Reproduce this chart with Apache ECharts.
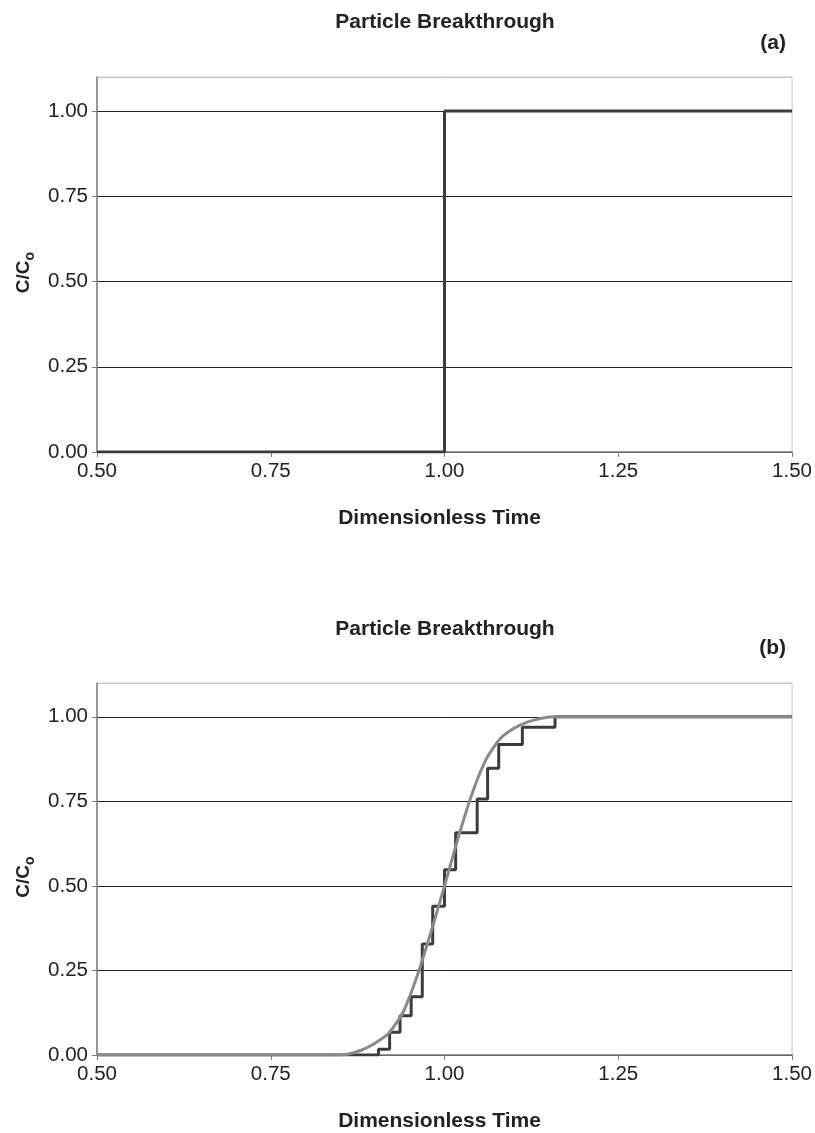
<!DOCTYPE html>
<html>
<head>
<meta charset="utf-8">
<script src="https://cdn.jsdelivr.net/npm/echarts@6/dist/echarts.min.js"></script>
<style>
    html, body { margin: 0; padding: 0; background: #fff; }
    #chart { width: 815px; height: 1133px; }
</style>
</head>
<body>
<div id="chart"></div>
<script>
    // (a) ideal breakthrough: [time, C/Co], value held until next time
    var stepA = [[0.50, 0], [1.00, 1], [1.50, 1]];

    // (b) particle steps
    var stepTimes = [0.50, 0.905, 0.921, 0.936, 0.952, 0.968, 0.983, 1.000, 1.016, 1.047, 1.062, 1.078, 1.112, 1.159, 1.50];
    var stepConc  = [0.000, 0.017, 0.067, 0.116, 0.172, 0.328, 0.440, 0.548, 0.657, 0.757, 0.848, 0.918, 0.969, 1.000, 1.000];

    // (b) smooth curve
    var curveTimes = [0.50, 0.84, 0.86, 0.88, 0.90, 0.92, 0.94, 0.96, 0.98, 1.00, 1.02, 1.04, 1.06, 1.08, 1.10, 1.12, 1.14, 1.16, 1.50];
    var curveConc  = [0.000, 0.000, 0.002, 0.014, 0.035, 0.065, 0.125, 0.230, 0.360, 0.500, 0.645, 0.775, 0.875, 0.935, 0.966, 0.985, 0.996, 1.000, 1.000];

    function pairs(xs, ys) {
        return xs.map(function (x, i) { return [x, ys[i]]; });
    }

    var font = 'Liberation Sans, Arial, sans-serif';
    var ink = '#222';

    function xAxisOf(idx) {
        return {
            gridIndex: idx, type: 'value', min: 0.5, max: 1.5, interval: 0.25,
            name: 'Dimensionless Time', nameLocation: 'middle', nameGap: 56,
            nameTextStyle: { fontFamily: font, fontSize: 21, fontWeight: 'bold', color: ink, padding: [0, 10, 0, 0] },
            axisLine: { lineStyle: { color: '#808080', width: 1.5 } },
            axisTick: { length: 5, lineStyle: { color: '#808080' } },
            axisLabel: { fontFamily: font, fontSize: 20.5, color: ink, margin: 9,
                formatter: function (v) { return v.toFixed(2); } },
            splitLine: { show: false }
        };
    }

    function yAxisOf(idx) {
        return {
            gridIndex: idx, type: 'value', min: 0, max: 1.1, interval: 0.25,
            name: '{a|C/C}{b|o}', nameLocation: 'middle', nameGap: 60,
            nameTextStyle: {
                padding: [0, 16, 0, 0],
                rich: {
                    a: { fontFamily: font, fontSize: 19, fontWeight: 'bold', color: ink, lineHeight: 26 },
                    b: { fontFamily: font, fontSize: 14, fontWeight: 'bold', color: ink, verticalAlign: 'bottom', lineHeight: 14 }
                }
            },
            axisLine: { lineStyle: { color: '#808080', width: 1.5 } },
            axisTick: { length: 5, lineStyle: { color: '#808080' } },
            axisLabel: { fontFamily: font, fontSize: 20.5, color: ink, margin: 9, showMaxLabel: false,
                formatter: function (v) { return v.toFixed(2); } },
            splitLine: { lineStyle: { color: ['#222', '#222', '#222', '#222', '#222', '#c8c8c8'], width: 1 } }
        };
    }

    var titleStyle = { fontFamily: font, fontSize: 21, fontWeight: 'bold', color: ink };

    var chart = echarts.init(document.getElementById('chart'));
    chart.setOption({
        animation: false,
        title: [
            { text: 'Particle Breakthrough', left: 440, textAlign: 'center', top: 7, textStyle: titleStyle },
            { text: '(a)', right: 24, top: 28, textStyle: titleStyle },
            { text: 'Particle Breakthrough', left: 440, textAlign: 'center', top: 614, textStyle: titleStyle },
            { text: '(b)', right: 24, top: 633, textStyle: titleStyle }
        ],
        grid: [
            { left: 97, top: 77, width: 698, height: 375, show: true, borderColor: '#c8c8c8', borderWidth: 1 },
            { left: 97, top: 683, width: 698, height: 376, show: true, borderColor: '#c8c8c8', borderWidth: 1 }
        ],
        xAxis: [xAxisOf(0), xAxisOf(1)],
        yAxis: [yAxisOf(0), yAxisOf(1)],
        series: [
            { type: 'line', xAxisIndex: 0, yAxisIndex: 0, data: stepA, step: 'end',
              symbol: 'none', lineStyle: { color: '#3c3c3c', width: 3 }, z: 3 },
            { type: 'line', xAxisIndex: 1, yAxisIndex: 1, data: pairs(stepTimes, stepConc), step: 'end',
              symbol: 'none', lineStyle: { color: '#3c3c3c', width: 3 }, z: 3 },
            { type: 'line', xAxisIndex: 1, yAxisIndex: 1, data: pairs(curveTimes, curveConc), smooth: 0.2,
              symbol: 'none', lineStyle: { color: '#8a8a8a', width: 3 }, z: 4 }
        ]
    });
</script>
</body>
</html>
